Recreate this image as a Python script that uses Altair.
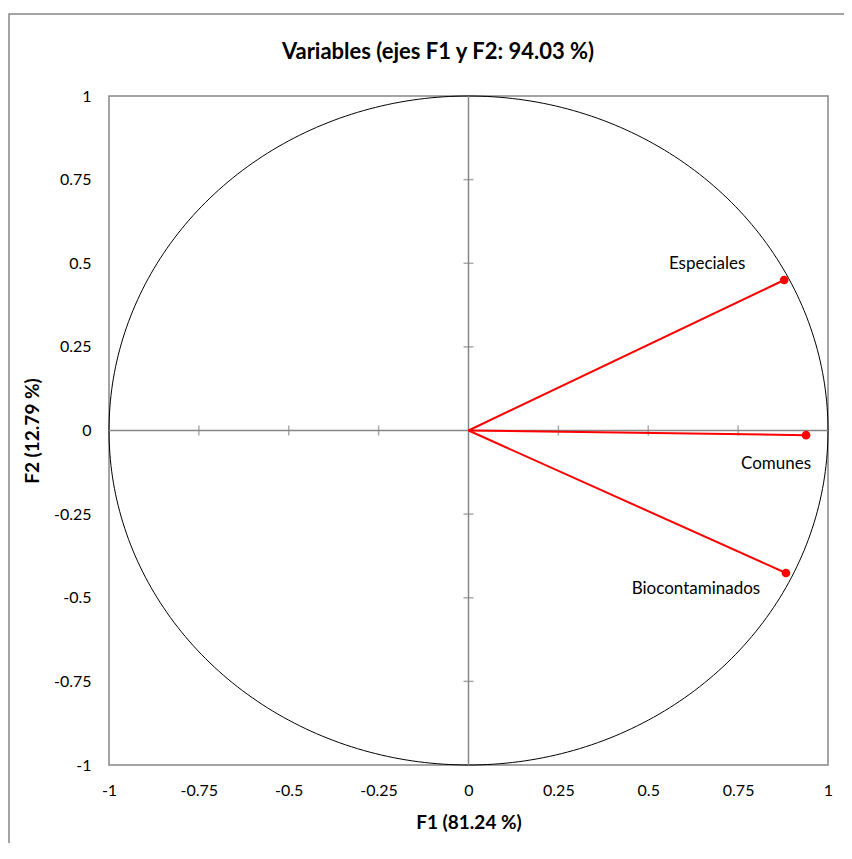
import altair as alt
import pandas as pd

# ---- data ----
variables = ["Especiales", "Comunes", "Biocontaminados"]
f1_values = [0.878, 0.939, 0.883]
f2_values = [0.450, -0.014, -0.426]
tick_values = [-1, -0.75, -0.5, -0.25, 0, 0.25, 0.5, 0.75, 1]
inner_ticks = [-0.75, -0.5, -0.25, 0.25, 0.5, 0.75]
chart_title = "Variables (ejes F1 y F2: 94.03 %)"
x_title = "F1 (81.24 %)"
y_title = "F2 (12.79 %)"

# label placement (styling)
label_offsets = {"Especiales": (-77, -16), "Comunes": (-30, 29), "Biocontaminados": (-90, 16)}

df = pd.DataFrame({"name": variables, "F1": f1_values, "F2": f2_values})
df["x0"] = 0.0
df["y0"] = 0.0
ticks_df = pd.DataFrame({"v": inner_ticks})
one = pd.DataFrame({"a": [0]})
title_df = pd.DataFrame({"t": [chart_title]})

W, H = 719, 669
GRAY = "#868686"
FONT = "Lato"

xs = alt.Scale(domain=[-1, 1], nice=False, zero=False)
ys = alt.Scale(domain=[-1, 1], nice=False, zero=False)

common_axis = dict(values=tick_values, labelExpr="datum.value + ''", ticks=False, domain=False,
                   grid=False, labelFontSize=16, labelColor="#000", labelFont=FONT,
                   titleFont=FONT, titleFontSize=19, titleFontWeight="bold", titleColor="#000",
                   labelFlush=False, labelOverlap=False)
x_axis = alt.Axis(title=x_title, labelPadding=17, titlePadding=15, **common_axis)
y_axis = alt.Axis(title=y_title, labelPadding=18, titlePadding=11, **common_axis)

circle = alt.Chart(alt.sequence(0, 361, 1, as_="deg")).transform_calculate(
    cx="cos(datum.deg*PI/180)", cy="sin(datum.deg*PI/180)"
).mark_line(color="black", strokeWidth=1).encode(
    x=alt.X("cx:Q", scale=xs, axis=x_axis),
    y=alt.Y("cy:Q", scale=ys, axis=y_axis),
    order="deg:Q",
)

vline = alt.Chart(one).mark_rule(color=GRAY, strokeWidth=1.5).encode(x=alt.datum(0, scale=xs))
hline = alt.Chart(one).mark_rule(color=GRAY, strokeWidth=1.5).encode(y=alt.datum(0, scale=ys))

xticks = alt.Chart(ticks_df).mark_tick(orient="vertical", size=10, thickness=1.5, color=GRAY).encode(
    x=alt.X("v:Q", scale=xs), y=alt.datum(0, scale=ys))
yticks = alt.Chart(ticks_df).mark_tick(orient="horizontal", size=10, thickness=1.5, color=GRAY).encode(
    y=alt.Y("v:Q", scale=ys), x=alt.datum(0, scale=xs))

vectors = alt.Chart(df).mark_rule(color="#FF0000", strokeWidth=2).encode(
    x=alt.X("x0:Q", scale=xs), y=alt.Y("y0:Q", scale=ys), x2="F1:Q", y2="F2:Q")

points = alt.Chart(df).mark_circle(color="#FF0000", size=75, opacity=1).encode(
    x=alt.X("F1:Q", scale=xs), y=alt.Y("F2:Q", scale=ys))

labels = []
for name in variables:
    dx, dy = label_offsets[name]
    labels.append(
        alt.Chart(df).transform_filter(alt.datum.name == name).mark_text(
            dx=dx, dy=dy, fontSize=17, font=FONT, color="#000"
        ).encode(x=alt.X("F1:Q", scale=xs), y=alt.Y("F2:Q", scale=ys), text="name:N")
    )

frame = alt.Chart(one).mark_rect(fillOpacity=0, stroke=GRAY, strokeWidth=1.5).encode(
    x=alt.value(-100), x2=alt.value(760), y=alt.value(-82), y2=alt.value(800))

title_mark = alt.Chart(title_df).mark_text(
    font=FONT, fontSize=22, fontWeight="bold", color="#000", baseline="middle", align="center"
).encode(x=alt.value(329), y=alt.value(-44), text="t:N")

chart = alt.layer(frame, circle, vline, hline, xticks, yticks, vectors, points, *labels, title_mark).properties(
    width=W, height=H,
    autosize=alt.AutoSizeParams(type="none"),
    padding={"left": 101, "top": 88, "right": 16, "bottom": 78},
).configure_view(stroke=GRAY, strokeWidth=1.5)

chart.save("out.html", embed_options={"renderer": "svg", "actions": False})
